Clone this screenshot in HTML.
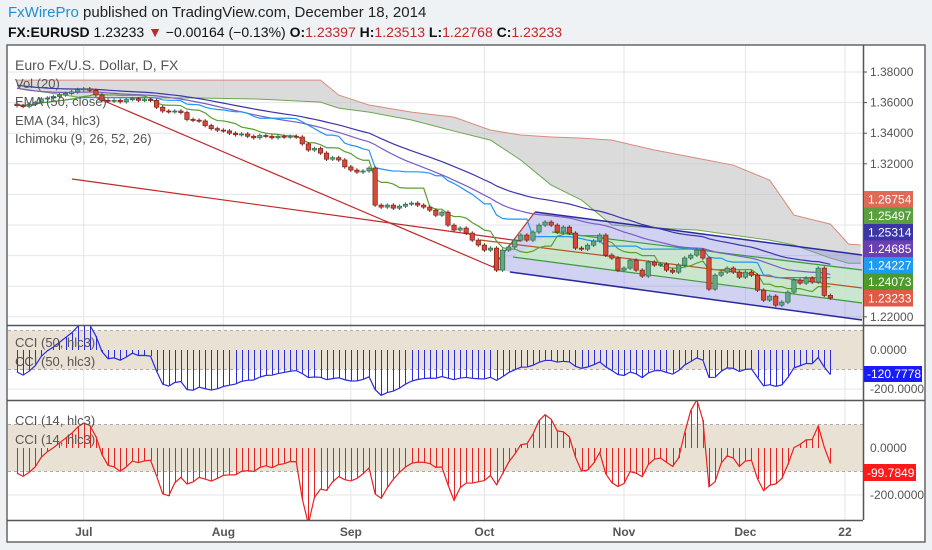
<!DOCTYPE html>
<html><head><meta charset="utf-8">
<style>
html,body{margin:0;padding:0;background:#eef2f5;}
body{width:932px;height:550px;overflow:hidden;font-family:"Liberation Sans",sans-serif;position:relative;}
#hdr1{position:absolute;left:8px;top:4px;font-size:15px;color:#222;white-space:nowrap;}
#hdr1 .brand{color:#1f8fd0;}
#hdr2{position:absolute;left:8px;top:24px;font-size:14px;color:#111;white-space:nowrap;}
#hdr2 b{font-weight:bold;}
#hdr2 .r{color:#c3282a;}
svg{position:absolute;left:0;top:0;}
</style></head>
<body>
<div id="hdr1"><span class="brand">FxWirePro</span> published on TradingView.com, December 18, 2014</div>
<div id="hdr2"><b>FX:EURUSD</b> 1.23233 <span style="color:#c3282a">&#9660;</span> &minus;0.00164 (&minus;0.13%) <b>O:</b><span class="r">1.23397</span> <b>H:</b><span class="r">1.23513</span> <b>L:</b><span class="r">1.22768</span> <b>C:</b><span class="r">1.23233</span></div>
<svg id="chart" width="932" height="550" xmlns="http://www.w3.org/2000/svg"></svg>
<script>
// ---- data ----
const closes = [
// Jun
1.3580,1.3575,1.3590,1.3600,1.3625,1.3630,1.3640,1.3650,1.3660,1.3670,1.3685,
// Jul
1.3690,1.3680,1.3650,1.3615,1.3610,1.3615,1.3605,1.3620,1.3625,1.3615,1.3620,1.3615,1.3570,1.3545,1.3540,1.3545,1.3535,1.3490,1.3485,1.3480,1.3450,1.3430,1.3420,
// Aug
1.3415,1.3400,1.3390,1.3395,1.3380,1.3370,1.3385,1.3380,1.3370,1.3380,1.3375,1.3380,1.3375,1.3330,1.3290,1.3300,1.3270,1.3230,1.3240,1.3225,1.3180,
// Sep
1.3159,1.3146,1.3153,1.3172,1.2930,1.2917,1.2930,1.2910,1.2923,1.2936,1.2943,1.2930,1.2917,1.2897,1.2864,1.2884,1.2799,1.2767,1.2780,1.2747,1.2701,1.2669,
// Oct
1.2636,1.2649,1.2505,1.2636,1.2656,1.2701,1.2734,1.2701,1.2754,1.2799,1.2819,1.2799,1.2754,1.2786,1.2747,1.2649,1.2642,1.2668,1.2695,1.2734,1.2603,1.2584,1.2505,
// Nov
1.2518,1.2570,1.2505,1.2466,1.2557,1.2538,1.2544,1.2505,1.2492,1.2538,1.2584,1.2603,1.2636,1.2584,1.2381,1.2472,1.2492,1.2518,1.2492,1.2459,
// Dec
1.2492,1.2472,1.2374,1.2309,1.2335,1.2276,1.2296,1.2361,1.2440,1.2420,1.2453,1.2427,1.2518,1.2340,1.2323
];
const emaSeed50 = 1.3720, emaSeed34 = 1.3700;
const cloudIdx  = [0,10,20,30,40,50,53,58,65,72,78,83,88,93,98,105,112,118,124,128,134,137,139];
const cloudTop  = [1.3747,1.3747,1.3747,1.3747,1.3747,1.3747,1.3649,1.3584,1.3538,1.3505,1.3420,1.3388,1.3375,1.3368,1.3355,1.3290,1.3237,1.3191,1.3093,1.2865,1.2806,1.2675,1.2669];
const cloudBot  = [1.3695,1.3636,1.3630,1.3630,1.3623,1.3603,1.3564,1.3538,1.3486,1.3414,1.3355,1.3224,1.3061,1.2963,1.2800,1.2780,1.2767,1.2734,1.2701,1.2669,1.2584,1.2550,1.2550];
const priceTicks = [1.38,1.36,1.34,1.32,1.30,1.28,1.26,1.24,1.22];
const priceTickLabels = ["1.38000","1.36000","1.34000","1.32000","","","","","1.22000"];
const lastLabels = ["1.26754","1.25497","1.25314","1.24685","1.24227","1.24073","1.23233"];
const lastColors = ["#e06a55","#5aa040","#3c35a8","#6a3fb5","#1e9af0","#4c9a28","#e05a45"];
const monthIdx = [11,34,55,77,100,120,136.4];
const monthLabels = ["Jul","Aug","Sep","Oct","Nov","Dec","22"];
const cciTicks = [0,-200];
const cciTickLabels = ["0.0000","-200.0000"];

// ---- scales ----
const X0=17, DX=6.07;
const xOf=i=>X0+i*DX;
const yP=p=>72+(1.38-p)/0.02*30.6;
const y50=v=>350-v*0.195;
const y14=v=>448-v*0.235;

const NS="http://www.w3.org/2000/svg";
const svg=document.getElementById('chart');
function mk(tag,attrs,parent){const e=document.createElementNS(NS,tag);for(const k in attrs)e.setAttribute(k,attrs[k]);(parent||svg).appendChild(e);return e;}
function txt(s,attrs,parent){const e=mk('text',attrs,parent);e.textContent=s;return e;}

// derived OHLC
const opens=closes.map((c,i)=>i===0?c+0.001:closes[i-1]);
const highs=closes.map((c,i)=>Math.max(c,opens[i])+0.0012);
const lows=closes.map((c,i)=>Math.min(c,opens[i])-0.0012);
const hlc3=closes.map((c,i)=>(highs[i]+lows[i]+c)/3);
function ema(arr,n,seed){const k=2/(n+1);let out=[],v=seed;arr.forEach((a)=>{v=a*k+v*(1-k);out.push(v);});return out;}
function midRange(n){return closes.map((c,i)=>{let s=Math.max(0,i-n+1),h=-1,l=9;for(let j=s;j<=i;j++){h=Math.max(h,highs[j]);l=Math.min(l,lows[j]);}return (h+l)/2;});}
function calcCci(n){const minW=Math.min(n,20);return hlc3.map((t,i)=>{let s=Math.max(0,i-n+1),e=i;if(i+1<minW){s=0;e=minW-1;}let m=0,c=e-s+1;for(let j=s;j<=e;j++)m+=hlc3[j];m/=c;let d=0;for(let j=s;j<=e;j++)d+=Math.abs(hlc3[j]-m);d/=c;return d?((t-m)/(0.015*d)):0;});}
const ema50=ema(closes,50,emaSeed50), ema34=ema(hlc3,34,emaSeed34), tenkan=midRange(9), kijun=midRange(26);
const cci50=calcCci(50), cci14=calcCci(14);

// ---- frame ----
mk('rect',{x:7,y:45,width:918,height:497,fill:'#fff',stroke:'#666','stroke-width':1.5,});
const defs=mk('defs',{});
const cp=mk('clipPath',{id:'mainclip'},defs);mk('rect',{x:8,y:46,width:855,height:279},cp);
const cp2=mk('clipPath',{id:'c50clip'},defs);mk('rect',{x:8,y:326,width:855,height:74},cp2);
const cp3=mk('clipPath',{id:'c14clip'},defs);mk('rect',{x:8,y:401,width:855,height:119},cp3);

// grid
const grid=mk('g',{stroke:'#e4e6e8','stroke-width':1});
monthIdx.forEach(i=>{mk('line',{x1:xOf(i),x2:xOf(i),y1:46,y2:520},grid);});
priceTicks.forEach(p=>mk('line',{x1:8,x2:863,y1:yP(p),y2:yP(p)},grid));
[0,-200].forEach(v=>{mk('line',{x1:8,x2:863,y1:y50(v),y2:y50(v)},grid);mk('line',{x1:8,x2:863,y1:y14(v),y2:y14(v)},grid);});

// ---- main panel ----
const main=mk('g',{'clip-path':'url(#mainclip)',});
const cTopPts=cloudIdx.map((i,k)=>xOf(i)+','+yP(cloudTop[k]));
const cBotPts=cloudIdx.map((i,k)=>xOf(i)+','+yP(cloudBot[k]));
const cloud=mk('polygon',{points:cTopPts.concat(cBotPts.slice().reverse()).join(' '),fill:'#bdbdbd','fill-opacity':0.55,stroke:'none'},main);


mk('polyline',{points:cTopPts.join(' '),fill:'none',stroke:'#d98a7c','stroke-width':1,},main);
mk('polyline',{points:cBotPts.join(' '),fill:'none',stroke:'#6aa84f','stroke-width':1,},main);
// channel drawing
mk('polygon',{points:'535,212 862,255 862,320 510,272 493,267',fill:'#8c8cdc','fill-opacity':0.4,stroke:'none',},main);
mk('polygon',{points:'552,232 862,270 862,303 513,257',fill:'#c8f0c0','fill-opacity':0.7,stroke:'none',},main);
mk('line',{x1:535,y1:212,x2:862,y2:255,stroke:'#2a2aa0','stroke-width':1.5,},main);
mk('line',{x1:510,y1:272,x2:862,y2:320,stroke:'#2a2aa0','stroke-width':1.5,},main);
mk('line',{x1:552,y1:232,x2:862,y2:270,stroke:'#3c9a3c','stroke-width':1.2,},main);
mk('line',{x1:513,y1:257,x2:862,y2:303,stroke:'#3c9a3c','stroke-width':1.2,},main);
mk('line',{x1:480,y1:240,x2:862,y2:288,stroke:'#b5532a','stroke-width':1.2,},main);
mk('line',{x1:493,y1:267,x2:535,y2:212,stroke:'#c0392b','stroke-width':1.2,},main);
// trendlines
mk('line',{x1:95,y1:97,x2:500,y2:270,stroke:'#c0282a','stroke-width':1.2,},main);
mk('line',{x1:72,y1:179,x2:520,y2:241,stroke:'#c0282a','stroke-width':1.2,},main);
// indicator lines
function drawLine(arr,color,name){const l=mk('polyline',{points:arr.map((v,i)=>xOf(i)+','+yP(v)).join(' '),fill:'none',stroke:color,'stroke-width':1.2},main);
 
 }
drawLine(ema50,'#3c35a8','ema-50-line');
drawLine(ema34,'#7a5cc8','ema-34-line');
drawLine(kijun,'#2196f3','ichimoku-kijun');
drawLine(tenkan,'#58a030','ichimoku-tenkan');
// candles
closes.forEach((c,i)=>{const o=opens[i],up=c>=o,x=xOf(i);
 const g=mk('g',{},main);
 
 
 const col=up?'#2f6b4c':'#7a2018';
 mk('line',{x1:x,x2:x,y1:yP(highs[i]),y2:yP(lows[i]),stroke:col,'stroke-width':1},g);
 const yt=yP(Math.max(o,c)),yb=yP(Math.min(o,c));
 mk('rect',{x:x-2.2,y:yt,width:4.4,height:Math.max(1,yb-yt),fill:up?'#63a884':'#d84a38',stroke:col,'stroke-width':0.7},g);
});
// legend
const lg=mk('g',{'font-size':13,fill:'#555',});
txt('Euro Fx/U.S. Dollar, D, FX',{x:15,y:70,'font-size':14},lg);
txt('Vol (20)',{x:15,y:88},lg);
txt('EMA (50, close)',{x:15,y:106},lg);
txt('EMA (34, hlc3)',{x:15,y:125},lg);
txt('Ichimoku (9, 26, 52, 26)',{x:15,y:143},lg);

const px=i=>Math.round(xOf(i))+0.5;
// ---- CCI 50 ----
const p50=mk('g',{'clip-path':'url(#c50clip)',});
mk('rect',{x:8,y:y50(100),width:855,height:y50(-100)-y50(100),fill:'#e9e1d3'},p50);
[100,-100].forEach(v=>mk('line',{x1:8,x2:863,y1:y50(v),y2:y50(v),stroke:'#aaa','stroke-dasharray':'3,3'},p50));
cci50.forEach((v,i)=>{const l=mk('line',{x1:px(i),x2:px(i),y1:y50(0),y2:y50(v),stroke:'#2a2ae0','stroke-width':1,'shape-rendering':'crispEdges'},p50);
 
 });
mk('polyline',{points:cci50.map((v,i)=>xOf(i)+','+y50(v)).join(' '),fill:'none',stroke:'#2a2ae0','stroke-width':1.2,},p50);
txt('CCI (50, hlc3)',{x:15,y:347,'font-size':13,fill:'#555',});
txt('CCI (50, hlc3)',{x:15,y:366,'font-size':13,fill:'#555',});

// ---- CCI 14 ----
const p14=mk('g',{'clip-path':'url(#c14clip)',});
mk('rect',{x:8,y:y14(100),width:855,height:y14(-100)-y14(100),fill:'#e9e1d3'},p14);
[100,-100].forEach(v=>mk('line',{x1:8,x2:863,y1:y14(v),y2:y14(v),stroke:'#aaa','stroke-dasharray':'3,3'},p14));
cci14.forEach((v,i)=>{const l=mk('line',{x1:px(i),x2:px(i),y1:y14(0),y2:y14(v),stroke:'#e82020','stroke-width':1,'shape-rendering':'crispEdges'},p14);
 
 });
mk('polyline',{points:cci14.map((v,i)=>xOf(i)+','+y14(v)).join(' '),fill:'none',stroke:'#e82020','stroke-width':1.2,},p14);
txt('CCI (14, hlc3)',{x:15,y:425,'font-size':13,fill:'#555',});
txt('CCI (14, hlc3)',{x:15,y:444,'font-size':13,fill:'#555',});

// separators
mk('line',{x1:7,x2:925,y1:325.5,y2:325.5,stroke:'#555','stroke-width':1.5});
mk('line',{x1:7,x2:925,y1:400.5,y2:400.5,stroke:'#555','stroke-width':1.5});
mk('line',{x1:7,x2:863,y1:520.5,y2:520.5,stroke:'#555','stroke-width':1.5});
mk('line',{x1:863.5,x2:863.5,y1:45,y2:520,stroke:'#555','stroke-width':1.5});

// ---- axes ----
const ax=mk('g',{'font-size':12,fill:'#555',});
priceTicks.forEach((p,k)=>{if(!priceTickLabels[k])return;mk('line',{x1:864,x2:867,y1:yP(p),y2:yP(p),stroke:'#555'},ax);txt(priceTickLabels[k],{x:870,y:yP(p)+4},ax);});
lastLabels.forEach((s,k)=>{const y=191+k*16.5;const g=mk('g',{},ax);
 
 
 mk('rect',{x:864,y:y,width:49,height:16.5,fill:lastColors[k]},g);
 txt(s,{x:868,y:y+12.5,fill:'#fff','font-size':12},g);});
const a50=mk('g',{'font-size':12,fill:'#555',});
cciTicks.forEach((v,k)=>txt(cciTickLabels[k],{x:870,y:y50(v)+4},a50));
mk('rect',{x:864,y:366,width:58,height:16,fill:'#1a1aff'},a50);
txt('-120.7778',{x:867,y:378,fill:'#fff'},a50);
const a14=mk('g',{'font-size':12,fill:'#555',});
cciTicks.forEach((v,k)=>txt(cciTickLabels[k],{x:870,y:y14(v)+4},a14));
mk('rect',{x:864,y:464,width:52,height:17,fill:'#ff1a1a'},a14);
txt('-99.7849',{x:867,y:477,fill:'#fff'},a14);
const tx=mk('g',{'font-size':12,fill:'#555','font-weight':'bold','text-anchor':'middle',});
monthIdx.forEach((i,k)=>txt(monthLabels[k],{x:xOf(i),y:536},tx));
</script>
</body></html>
